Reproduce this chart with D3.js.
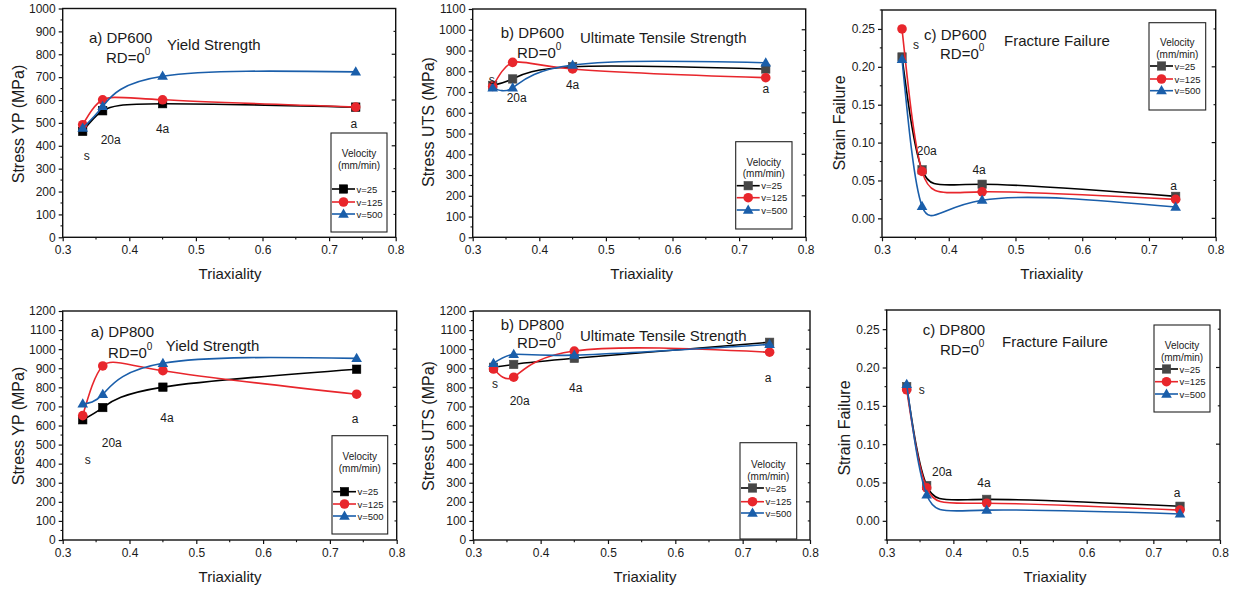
<!DOCTYPE html>
<html>
<head>
<meta charset="utf-8">
<script src="https://cdn.jsdelivr.net/npm/d3@7"></script>
<style>
  html, body { margin: 0; padding: 0; background: #fff; }
  svg { display: block; font-family: "Liberation Sans", Arial, sans-serif; }
</style>
</head>
<body>
<svg id="chart" width="1238" height="590"></svg>
<script>
// Stress triaxiality of the specimen geometries (s, 20a, 4a, a)
const triaxiality = [0.33, 0.36, 0.45, 0.74];
const specimenLabels = ["s", "20a", "4a", "a"];
const velocityLabels = ["v=25", "v=125", "v=500"];

// DP600 yield strength (MPa)
const dp600YieldV25  = [463, 553, 584, 569];
const dp600YieldV125 = [492, 601, 601, 569];
const dp600YieldV500 = [477, 572, 704, 723];

// DP600 ultimate tensile strength (MPa)
const dp600UtsV25  = [732, 763, 822, 811];
const dp600UtsV125 = [727, 843, 811, 769];
const dp600UtsV500 = [720, 720, 830, 841];

// DP600 failure strain
const dp600StrainV25  = [0.213, 0.064, 0.045, 0.029];
const dp600StrainV125 = [0.250, 0.062, 0.035, 0.025];
const dp600StrainV500 = [0.210, 0.016, 0.024, 0.015];

// DP800 yield strength (MPa)
const dp800YieldV25  = [630, 694, 801, 895];
const dp800YieldV125 = [652, 912, 887, 764];
const dp800YieldV500 = [713, 763, 926, 952];

// DP800 ultimate tensile strength (MPa)
const dp800UtsV25  = [905, 920, 952, 1036];
const dp800UtsV125 = [896, 853, 990, 984];
const dp800UtsV500 = [926, 973, 969, 1025];

// DP800 failure strain
const dp800StrainV25  = [0.175, 0.046, 0.028, 0.019];
const dp800StrainV125 = [0.171, 0.043, 0.023, 0.014];
const dp800StrainV500 = [0.178, 0.034, 0.014, 0.009];

// Axis tick values
const xTicks = [0.3, 0.4, 0.5, 0.6, 0.7, 0.8];
const strainTicks = [0.00, 0.05, 0.10, 0.15, 0.20, 0.25];

const colors = ["#000000", "#e8262c", "#1a5eaa"];

const svg = d3.select("#chart");

const panels = [
  {
    frame: { l: 62.7, r: 395.7, t: 8.5, b: 237.3 }, yDomain: [0, 1000], yStep: 100, strain: false,
    series: [dp600YieldV25, dp600YieldV125, dp600YieldV500], squareFill: "#000000",
    yTitle: "Stress YP (MPa)", yTitlePos: [18, 124], xTitlePos: [230, 273],
    titles: [["a) DP600", 89, 37], ["Yield Strength", 167, 44]], rd: [106, 57],
    labels: [[4, 355], [8, 425], [0, 473], [-2, 495]],
    legend: { x0: 331, x1: 387, y0: 133, y1: 232, head: [153, 165], rows: [189, 202, 214] }
  },
  {
    frame: { l: 472.7, r: 805.7, t: 9, b: 237.3 }, yDomain: [0, 1100], yStep: 100, strain: false,
    series: [dp600UtsV25, dp600UtsV125, dp600UtsV500], squareFill: "#474747",
    yTitle: "Stress UTS (MPa)", yTitlePos: [428, 122], xTitlePos: [641.7, 273],
    titles: [["b) DP600", 500.7, 32], ["Ultimate Tensile Strength", 580, 37]], rd: [517, 52],
    labels: [[-1, 758], [4, 671], [0, 733], [0, 714]],
    legend: { x0: 735.7, x1: 792, y0: 141.7, y1: 229, head: [162, 173], rows: [185.7, 197.7, 210] }
  },
  {
    frame: { l: 882, r: 1215.7, t: 10, b: 237.3 }, yDomain: [-0.025, 0.275], yStep: 0.05, strain: true,
    series: [dp600StrainV25, dp600StrainV125, dp600StrainV500], squareFill: "#474747",
    yTitle: "Strain Failure", yTitlePos: [839, 123], xTitlePos: [1051.7, 273],
    titles: [["c) DP600", 924, 34], ["Fracture Failure", 1004, 40.7]], rd: [940, 53],
    labels: [[14, 0.2288], [4.7, 0.0893], [-3, 0.0638], [-2, 0.0431]],
    legend: { x0: 1149, x1: 1205.7, y0: 22.7, y1: 110, head: [42.7, 54.3], rows: [66, 79, 90.7] }
  },
  {
    frame: { l: 62.7, r: 396.7, t: 311, b: 540 }, yDomain: [0, 1200], yStep: 100, strain: false,
    series: [dp800YieldV25, dp800YieldV125, dp800YieldV500], squareFill: "#000000",
    yTitle: "Stress YP (MPa)", yTitlePos: [18, 426], xTitlePos: [230, 576],
    titles: [["a) DP800", 90.7, 331], ["Yield Strength", 165.7, 345]], rd: [108, 351.7],
    labels: [[5, 419], [9, 508], [4, 639], [-1.6, 634]],
    legend: { x0: 332, x1: 387.7, y0: 435.7, y1: 534, head: [456, 468], rows: [491.7, 504, 516] }
  },
  {
    frame: { l: 473.3, r: 810, t: 311, b: 540 }, yDomain: [0, 1200], yStep: 100, strain: false,
    series: [dp800UtsV25, dp800UtsV125, dp800UtsV500], squareFill: "#474747",
    yTitle: "Stress UTS (MPa)", yTitlePos: [428, 426], xTitlePos: [645, 576],
    titles: [["b) DP800", 500.7, 324], ["Ultimate Tensile Strength", 580, 335.7]], rd: [517, 342],
    labels: [[1.5, 817], [6, 728], [1.4, 797], [-1.6, 849]],
    legend: { x0: 740, x1: 796.7, y0: 442.7, y1: 539, head: [464, 476.7], rows: [488, 501.7, 513] }
  },
  {
    frame: { l: 886.7, r: 1220, t: 310, b: 540 }, yDomain: [-0.025, 0.275], yStep: 0.05, strain: true,
    series: [dp800StrainV25, dp800StrainV125, dp800StrainV500], squareFill: "#474747",
    yTitle: "Strain Failure", yTitlePos: [844, 428], xTitlePos: [1055, 576],
    titles: [["c) DP800", 922.7, 329], ["Fracture Failure", 1002, 341]], rd: [940, 349],
    labels: [[15, 0.1707], [15.3, 0.0641], [-2.7, 0.0494], [-3, 0.0363]],
    legend: { x0: 1154, x1: 1210, y0: 325, y1: 412, head: [345, 357], rows: [369, 381.7, 394] }
  }
];

const textColor = "#1a1a1a";

function drawMarker(g, k, cx, cy, squareFill) {
  if (k === 0) {
    g.append("rect").attr("x", cx - 4.2).attr("y", cy - 4.2).attr("width", 8.4).attr("height", 8.4)
      .attr("fill", squareFill).attr("stroke", squareFill).attr("stroke-width", 0.6);
  } else if (k === 1) {
    g.append("circle").attr("cx", cx).attr("cy", cy).attr("r", 4.8).attr("fill", colors[1]);
  } else {
    const s = 5.6;
    g.append("path")
      .attr("d", `M${cx},${cy - s * 1.0}L${cx + s * 0.95},${cy + s * 0.65}L${cx - s * 0.95},${cy + s * 0.65}Z`)
      .attr("fill", colors[2]);
  }
}

panels.forEach(p => {
  const f = p.frame;
  const g = svg.append("g");
  const x = d3.scaleLinear().domain([0.3, 0.8]).range([f.l, f.r]);
  const y = d3.scaleLinear().domain(p.yDomain).range([f.b, f.t]);

  // major and minor y ticks
  let yMajor, yMinor;
  if (p.strain) {
    yMajor = strainTicks;
    yMinor = d3.range(-0.025, 0.28, 0.05).map(v => +v.toFixed(3));
  } else {
    yMajor = d3.range(p.yDomain[0], p.yDomain[1] + 1, p.yStep);
    yMinor = d3.range(p.yDomain[0] + p.yStep / 2, p.yDomain[1], p.yStep);
  }
  const xMinor = [0.35, 0.45, 0.55, 0.65, 0.75];

  const yAxis = d3.axisLeft(y).tickValues(yMajor).tickSize(4).tickPadding(3)
    .tickFormat(p.strain ? d3.format(".2f") : d3.format("d"));
  const ya = g.append("g").attr("transform", `translate(${f.l},0)`).call(yAxis);
  const xAxis = d3.axisBottom(x).tickValues(xTicks).tickSize(4).tickPadding(4).tickFormat(d3.format(".1f"));
  const xa = g.append("g").attr("transform", `translate(0,${f.b})`).call(xAxis);
  [ya, xa].forEach(a => {
    a.select(".domain").remove();
    a.selectAll("line").attr("stroke", "#111").attr("stroke-width", 1.2);
    a.selectAll("text").attr("font-size", 12).attr("fill", textColor)
      .attr("font-family", "Liberation Sans, Arial, sans-serif");
  });

  // minor ticks
  g.append("g").selectAll("line").data(yMinor).join("line")
    .attr("x1", f.l - 2.2).attr("x2", f.l).attr("y1", d => y(d)).attr("y2", d => y(d))
    .attr("stroke", "#111").attr("stroke-width", 1.1);
  g.append("g").selectAll("line").data(xMinor).join("line")
    .attr("x1", d => x(d)).attr("x2", d => x(d)).attr("y1", f.b).attr("y2", f.b + 2.2)
    .attr("stroke", "#111").attr("stroke-width", 1.1);

  // mirrored ticks on the right edge, pointing inward
  const rightMajor = p.strain ? [0.0, 0.1, 0.2] : yMajor.filter((v, i) => i % 2 === 0 && v > p.yDomain[0] && v < p.yDomain[1]);
  const rightMinor = p.strain ? [0.05, 0.15, 0.25] : yMajor.filter((v, i) => i % 2 === 1 && v < p.yDomain[1]);
  g.append("g").selectAll("line").data(rightMajor).join("line")
    .attr("x1", f.r - 4).attr("x2", f.r).attr("y1", d => y(d)).attr("y2", d => y(d))
    .attr("stroke", "#111").attr("stroke-width", 1.2);
  g.append("g").selectAll("line").data(rightMinor).join("line")
    .attr("x1", f.r - 2.2).attr("x2", f.r).attr("y1", d => y(d)).attr("y2", d => y(d))
    .attr("stroke", "#111").attr("stroke-width", 1.1);

  // frame
  g.append("rect").attr("x", f.l).attr("y", f.t).attr("width", f.r - f.l).attr("height", f.b - f.t)
    .attr("fill", "none").attr("stroke", "#111").attr("stroke-width", 1.4);

  // axis titles
  g.append("text").attr("x", p.xTitlePos[0]).attr("y", p.xTitlePos[1])
    .attr("text-anchor", "middle").attr("dominant-baseline", "central")
    .attr("font-size", 15).attr("fill", textColor).text("Triaxiality");
  g.append("text")
    .attr("transform", `translate(${p.yTitlePos[0]},${p.yTitlePos[1]}) rotate(-90)`)
    .attr("text-anchor", "middle").attr("dominant-baseline", "central")
    .attr("font-size", 16).attr("fill", textColor).text(p.yTitle);

  // panel titles
  p.titles.forEach(t => {
    g.append("text").attr("x", t[1]).attr("y", t[2]).attr("dominant-baseline", "central")
      .attr("font-size", 15).attr("fill", textColor).text(t[0]);
  });
  const rd = g.append("text").attr("x", p.rd[0]).attr("y", p.rd[1]).attr("dominant-baseline", "central")
    .attr("font-size", 15).attr("fill", textColor);
  rd.append("tspan").text("RD=0");
  rd.append("tspan").attr("font-size", 10).attr("dy", -6).text("0");

  // series: smooth spline through the points, then symbols
  const line = d3.line().curve(d3.curveNatural).x(d => x(d[0])).y(d => y(d[1]));
  p.series.forEach((vals, k) => {
    const pts = vals.map((v, i) => [triaxiality[i], v]);
    g.append("path").attr("d", line(pts))
      .attr("fill", "none").attr("stroke", colors[k]).attr("stroke-width", 1.6);
    vals.forEach((v, i) => drawMarker(g, k, x(triaxiality[i]), y(v), p.squareFill));
  });

  // specimen labels
  p.labels.forEach((lb, i) => {
    g.append("text").attr("x", x(triaxiality[i]) + lb[0]).attr("y", y(lb[1]))
      .attr("text-anchor", "middle").attr("dominant-baseline", "central")
      .attr("font-size", 12).attr("fill", textColor).text(specimenLabels[i]);
  });

  // legend
  const L = p.legend;
  const lg = g.append("g");
  lg.append("rect").attr("x", L.x0).attr("y", L.y0).attr("width", L.x1 - L.x0).attr("height", L.y1 - L.y0)
    .attr("fill", "#fff").attr("stroke", "#222").attr("stroke-width", 1.1);
  const cx = (L.x0 + L.x1) / 2;
  lg.append("text").attr("x", cx).attr("y", L.head[0]).attr("text-anchor", "middle")
    .attr("dominant-baseline", "central").attr("font-size", 10).attr("fill", textColor).text("Velocity");
  lg.append("text").attr("x", cx).attr("y", L.head[1]).attr("text-anchor", "middle")
    .attr("dominant-baseline", "central").attr("font-size", 10).attr("fill", textColor).text("(mm/min)");
  velocityLabels.forEach((lab, k) => {
    const yy = L.rows[k];
    lg.append("line").attr("x1", L.x0 + 1).attr("x2", L.x0 + 24).attr("y1", yy).attr("y2", yy)
      .attr("stroke", colors[k]).attr("stroke-width", 1.6);
    drawMarker(lg, k, L.x0 + 12.5, yy, p.squareFill);
    lg.append("text").attr("x", L.x0 + 25.5).attr("y", yy).attr("dominant-baseline", "central")
      .attr("font-size", 9.5).attr("fill", textColor).text(lab);
  });
});
</script>
</body>
</html>
